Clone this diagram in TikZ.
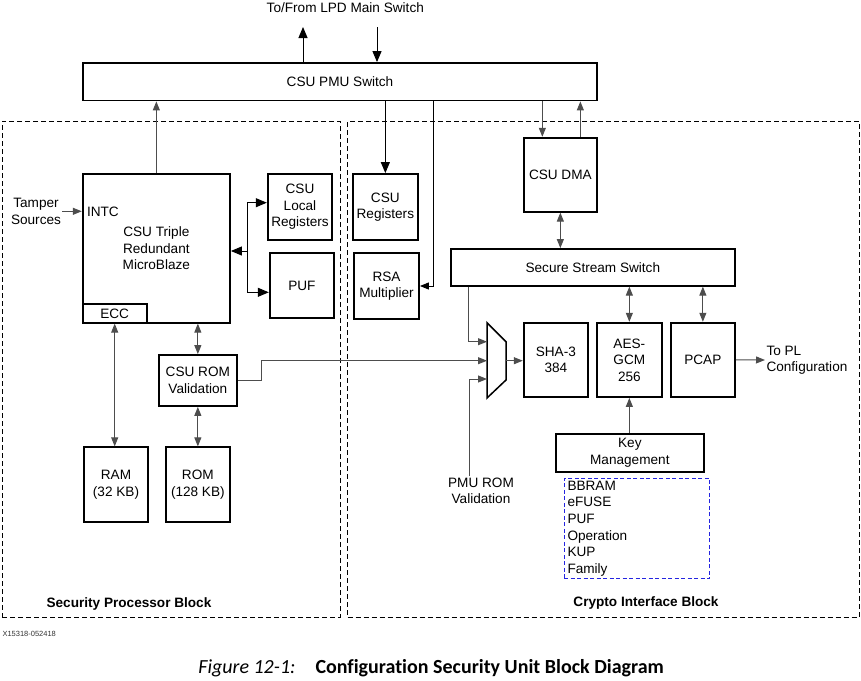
\documentclass[tikz,border=0pt]{standalone}
\usepackage{fontspec}
\setmainfont{Liberation Sans}
\newfontfamily\capfont[Ligatures=NoCommon]{Carlito}
\usetikzlibrary{arrows.meta, positioning}
\definecolor{cline}{HTML}{4D4D4D}
\definecolor{ckey}{HTML}{2424E0}
\newcommand{\diagfont}{\fontsize{13.6}{16.5}\selectfont}
\newcommand{\capsize}{\fontsize{20}{24}\selectfont}
\tikzset{
  every picture/.style={line width=1pt},
  box/.style={draw=black, line width=1.8pt, align=center, inner sep=1pt, font=\diagfont},
  txt/.style={align=center, inner sep=1pt, font=\diagfont},
  blockbox/.style={draw=black, line width=0.9pt, dash pattern=on 5pt off 3pt},
  blocklbl/.style={font=\diagfont\bfseries, inner sep=1pt},
  keybox/.style={draw=ckey, line width=1pt, dash pattern=on 4pt off 2.5pt, align=left, inner xsep=3.5pt, inner ysep=2pt, font=\fontsize{13.6}{16.6}\selectfont},
  arr/.style={-{Triangle[length=9pt, width=7pt]}, draw=cline, line width=1pt},
  darr/.style={{Triangle[length=9pt, width=7pt]}-{Triangle[length=9pt, width=7pt]}, draw=cline, line width=1pt},
  barr/.style={-{Triangle[length=11pt, width=9pt]}, draw=black, line width=1pt},
  wire/.style={draw=black, line width=1pt},
}

\begin{document}
\begin{tikzpicture}[x=1pt, y=-1pt]
  \useasboundingbox (0,0) rectangle (861,680);
  % dashed blocks
  \node[blockbox, minimum width=338, minimum height=496] (spb) at (171,369) {};
  \node[blockbox, minimum width=511.5, minimum height=496] (cib) at (603.25,369) {};
  \node[blocklbl] (spblbl) at (129,604.3) {Security Processor Block};
  \node[blocklbl] (ciblbl) at (646,603.3) {Crypto Interface Block};

  \node[txt] (lpd) at (345.3,8) {To/From LPD Main Switch};
  \node[box, minimum width=514, minimum height=37.5] (pmu) at (340,81.75) {CSU PMU Switch};
  \coordinate (lpdup) at (303,27);
  \coordinate (lpddn) at (377,27);

  % security processor block
  \node[box, minimum width=147.3, minimum height=148.4] (mb) at (156.35,248.5) {CSU Triple\\Redundant\\MicroBlaze};
  \node[box, minimum width=64, minimum height=18.4] (ecc) at (114.7,313.5) {ECC};
  \node[txt, anchor=west] (intc) at (85.5,211.5) {INTC};
  \node[txt] (tamper) at (36,211.3) {Tamper\\Sources};
  \node[box, minimum width=64.6, minimum height=65.7] (lreg) at (300,207.15) {CSU\\Local\\Registers};
  \node[box, minimum width=64.3, minimum height=65.6] (puf) at (301.85,285.5) {PUF};
  \node[box, minimum width=78.3, minimum height=51] (romv) at (197.85,380.5) {CSU ROM\\Validation};
  \node[box, minimum width=64.6, minimum height=74.7] (ram) at (116,484.65) {RAM\\(32 KB)};
  \node[box, minimum width=64.3, minimum height=74.7] (rom) at (197.85,484.65) {ROM\\(128 KB)};
  \coordinate (bus) at (247.3,251);
  \coordinate (bustop) at (247.3,202.7);
  \coordinate (busbot) at (247.3,292.3);

  % crypto interface block
  \node[box, minimum width=65.3, minimum height=66] (creg) at (385.35,207) {CSU\\Registers};
  \node[box, minimum width=65, minimum height=66] (rsa) at (386.5,286) {RSA\\Multiplier};
  \node[box, minimum width=73.3, minimum height=74] (dma) at (560.35,174.7) {CSU DMA};
  \node[box, minimum width=284.3, minimum height=36.7] (sss) at (592.85,267.35) {Secure Stream Switch};
  \node[box, minimum width=64.3, minimum height=74.3] (sha) at (555.85,359.85) {SHA-3\\384};
  \node[box, minimum width=65.3, minimum height=74.3] (aes) at (629.35,359.85) {AES-\\GCM\\256};
  \node[box, minimum width=64.3, minimum height=74.3] (pcap) at (702.85,359.85) {PCAP};
  \node[txt, align=left, anchor=west] (topl) at (765,360) {To PL\\Configuration};
  \node[box, minimum width=148.3, minimum height=38] (km) at (629.85,452.7) {Key\\Management};
  \node[keybox, minimum width=145.8, minimum height=100, text width=138.8, anchor=north west] (keys) at (563.5,478) {BBRAM\\eFUSE\\PUF\\Operation\\KUP\\Family};
  \node[txt] (pmurv) at (481,491) {PMU ROM\\Validation};

  % mux
  \draw[line width=1.5pt, line join=miter] (487,322.7) -- (506,341.7) -- (506,380) -- (487,398) -- cycle;
  \coordinate (mux1) at (487,341.7);
  \coordinate (mux2) at (487,360.7);
  \coordinate (mux3) at (487,379);
  \coordinate (muxo) at (506,360.7);

  % connectors
  \draw[barr] (pmu.north -| lpdup) -- (lpdup);
  \draw[barr] (lpddn) -- (pmu.north -| lpddn);
  \draw[arr] (mb.north) -- (mb.north |- pmu.south);
  \draw[arr] (tamper.east) -- (tamper.east -| mb.west);
  \draw[wire] (bustop) -- (busbot);
  \draw[barr] (bus) -- (bus -| mb.east);
  \draw[barr] (bustop) -- (bustop -| lreg.west);
  \draw[barr] (busbot) -- (busbot -| puf.west);
  \draw[darr] (ecc.south) -- (ecc.south |- ram.north);
  \draw[darr] (romv.north |- mb.south) -- (romv.north);
  \draw[darr] (romv.south) -- (romv.south |- rom.north);
  \draw[arr] (romv.east) -- ++(23.3,0) |- (mux2);

  \draw[barr] (creg.north |- pmu.south) -- (creg.north);
  \draw[arr, draw=black] ([xshift=13.5]rsa.east |- pmu.south) |- (rsa.east);
  \draw[arr] ([xshift=-18]dma.north |- pmu.south) -- ([xshift=-18]dma.north);
  \draw[arr] ([xshift=20]dma.north) -- ([xshift=20]dma.north |- pmu.south);
  \draw[darr] (dma.south) -- (dma.south |- sss.north);
  \draw[darr] (aes.north |- sss.south) -- (aes.north);
  \draw[darr] (pcap.north |- sss.south) -- (pcap.north);
  \draw[arr] ([xshift=-124.85]sss.south) |- (mux1);
  \draw[arr] ([xshift=-12]pmurv.north) |- (mux3);
  \draw[arr] (muxo) -- (muxo -| sha.west);
  \draw[arr] (pcap.east) -- (topl.west);
  \draw[arr] (aes.south |- km.north) -- (aes.south);

  % caption
  \node[font=\fontsize{7.5}{9}\selectfont, text=black!80, anchor=west, inner sep=0] (figid) at (2,634) {X15318-052418};
  \node[font=\capfont\capsize\itshape, anchor=base east, inner sep=0] (fignum) at (296,673) {Figure 12-1:};
  \node[font=\capfont\capsize\bfseries, inner sep=0, base right=19pt of fignum] (figtitle) {Configuration Security Unit Block Diagram};
\end{tikzpicture}
\end{document}
